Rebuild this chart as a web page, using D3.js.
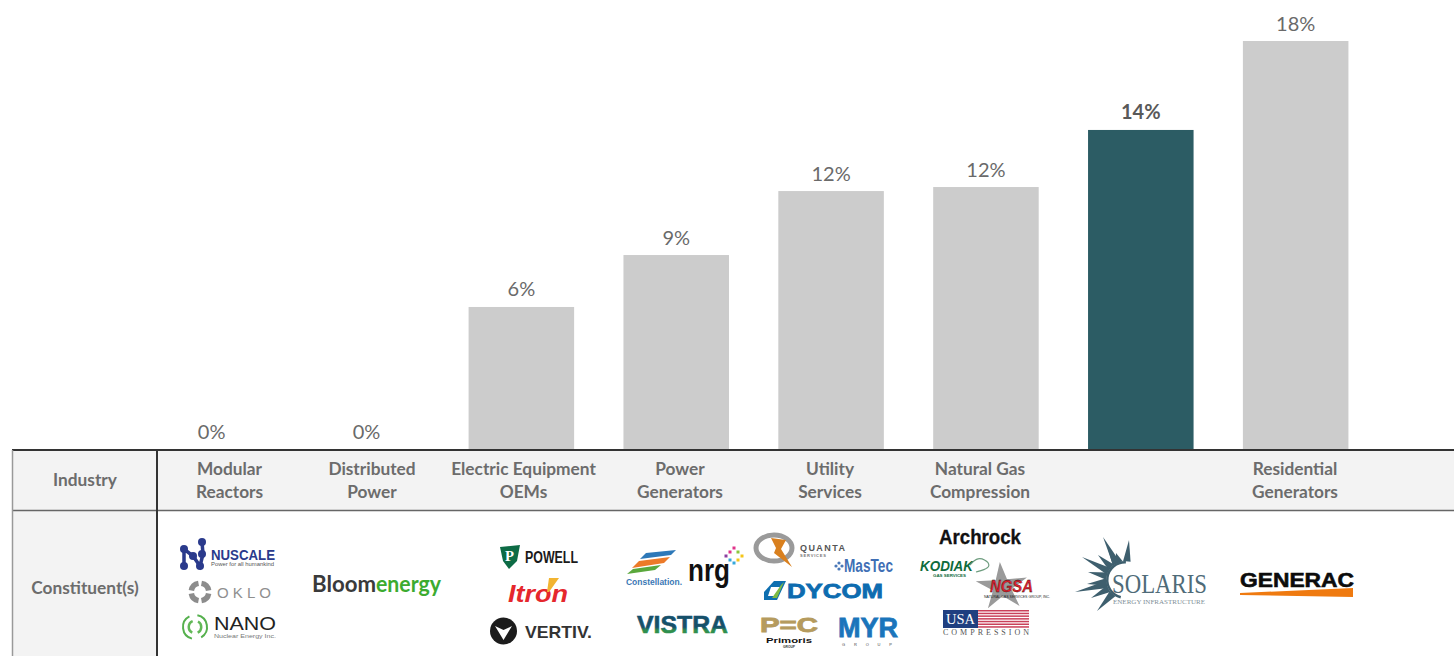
<!DOCTYPE html>
<html>
<head>
<meta charset="utf-8">
<title>Industry returns with constituents</title>
<script src="https://cdnjs.cloudflare.com/ajax/libs/d3/7.8.5/d3.min.js"></script>
<style>
  html, body { margin: 0; padding: 0; background: #fff; }
  svg { display: block; font-family: Lato, "Noto Sans", sans-serif; }
</style>
</head>
<body>
<svg id="chart" width="1454" height="656"></svg>
<script>
// Chart data
const industries = ["Modular\nReactors", "Distributed\nPower", "Electric Equipment\nOEMs", "Power\nGenerators",
                    "Utility\nServices", "Natural Gas\nCompression", "", "Residential\nGenerators"];
const values = [0, 0, 6.37, 8.7, 11.57, 11.75, 14.31, 18.3];
const highlighted = [false, false, false, false, false, false, true, false];
const rowTitles = ["Industry", "Constituent(s)"];

const svg = d3.select("#chart");
const W = 1454, H = 656;
const baseY = 449;

const x = d3.scaleBand().domain(d3.range(industries.length))
  .range([134.2, 1373.1]).paddingInner(0.3186).paddingOuter(0.1593);
const y = d3.scaleLinear().domain([0, 18.3]).range([baseY, 41]);
const pct = v => d3.format(".0f")(v) + "%";

// Bars and value labels
const bars = svg.append("g");
bars.selectAll("rect").data(values).join("rect")
  .attr("x", (d, i) => x(i)).attr("width", x.bandwidth())
  .attr("y", d => y(d)).attr("height", d => baseY - y(d))
  .attr("fill", (d, i) => highlighted[i] ? "#2c5c64" : "#cccccc");
bars.selectAll("text").data(values).join("text")
  .attr("x", (d, i) => x(i) + x.bandwidth() / 2).attr("y", d => y(d) - 10.5)
  .attr("text-anchor", "middle").attr("font-size", 20)
  .attr("font-weight", (d, i) => highlighted[i] ? 700 : 400)
  .attr("fill", (d, i) => highlighted[i] ? "#595959" : "#6a6a6a")
  .text(pct);

// Table shading and rules under the bars
const table = svg.append("g");
table.append("rect").attr("x", 12).attr("y", 450).attr("width", W - 12).attr("height", 60).attr("fill", "#f3f3f3");
table.append("rect").attr("x", 12).attr("y", 510).attr("width", 145).attr("height", H - 510).attr("fill", "#f3f3f3");
table.append("line").attr("x1", 12).attr("x2", W).attr("y1", 450).attr("y2", 450).attr("stroke", "#333").attr("stroke-width", 2);
table.append("line").attr("x1", 12).attr("x2", W).attr("y1", 510.5).attr("y2", 510.5).attr("stroke", "#666").attr("stroke-width", 1.5);
table.append("line").attr("x1", 12.5).attr("x2", 12.5).attr("y1", 450).attr("y2", H).attr("stroke", "#999").attr("stroke-width", 1.5);
table.append("line").attr("x1", 157).attr("x2", 157).attr("y1", 450).attr("y2", H).attr("stroke", "#333").attr("stroke-width", 2);

const labelStyle = s => s.attr("font-size", 17.3).attr("font-weight", 700).attr("fill", "#6c6c6c").attr("text-anchor", "middle");
table.append("text").call(labelStyle).attr("x", 85).attr("y", 486).text(rowTitles[0]);
table.append("text").call(labelStyle).attr("x", 85).attr("y", 594).text(rowTitles[1]);

// Column headings sit on their own centres, which drift from the bars
const headingCentres = [229.5, 372, 523.5, 680, 830, 980, 1141, 1295];
table.selectAll("text.head").data(industries).join("text").attr("class", "head").call(labelStyle)
  .each(function (d, i) {
    d3.select(this).selectAll("tspan").data(d.split("\n")).join("tspan")
      .attr("x", headingCentres[i]).attr("y", (t, k) => 475 + k * 23).text(t => t);
  });

// Company marks, built from plain shapes and type
const logos = svg.append("g");
const sans = '"Liberation Sans", Arial, sans-serif';
const serif = '"Liberation Serif", serif';
function word(s, px, py, len, size, fill, opts = {}) {
  const t = logos.append("text").attr("x", px).attr("y", py).attr("font-size", size).attr("fill", fill)
    .attr("font-family", opts.family || sans).attr("font-weight", opts.weight || 400)
    .attr("font-style", opts.style || "normal").text(s);
  if (len) t.attr("textLength", len).attr("lengthAdjust", opts.adjust || "spacingAndGlyphs");
  return t;
}
function poly(points, fill) { return logos.append("polygon").attr("points", points.join(" ")).attr("fill", fill); }
function dot(cx, cy, r, fill) { return logos.append("circle").attr("cx", cx).attr("cy", cy).attr("r", r).attr("fill", fill); }
function arc(cx, cy, r0, r1, a0, a1, fill) {
  return logos.append("path").attr("transform", `translate(${cx},${cy})`).attr("fill", fill)
    .attr("d", d3.arc()({ innerRadius: r0, outerRadius: r1, startAngle: a0, endAngle: a1 }));
}

const defs = svg.append("defs");
const vistraFill = defs.append("linearGradient").attr("id", "vistraFill").attr("x1", 0).attr("x2", 0).attr("y1", 0).attr("y2", 1);
vistraFill.append("stop").attr("offset", "60%").attr("stop-color", "#16506a");
vistraFill.append("stop").attr("offset", "72%").attr("stop-color", "#2f8f4e");

// NuScale
const nuNavy = "#2a3a8c";
const nuNodes = [[184, 549], [184, 566], [202, 542], [202, 554], [193, 556], [200, 566]];
logos.append("path").attr("fill", "none").attr("stroke", nuNavy).attr("stroke-width", 3.5)
  .attr("d", d3.line()([[184, 566], [184, 549], [193, 556], [200, 566], [203, 554], [202, 542]]));
nuNodes.forEach(n => dot(n[0], n[1], 4, nuNavy));
word("NUSCALE", 211, 560, 64, 14, nuNavy, { weight: 700 });
word("Power for all humankind", 211, 566, 63, 4.5, "#555");

// Oklo
d3.range(4).forEach(i => arc(200, 592, 6, 11.5, i * Math.PI / 2 + 0.17, (i + 1) * Math.PI / 2 - 0.17, "#8c8c8c"));
word("OKLO", 217, 598, 54, 15, "#8f8f8f", { adjust: "spacing" });

// Nano Nuclear
arc(195, 627, 11, 13, 0.2, 2.6, "#55b04d");
arc(195, 627, 11, 13, 3.4, 5.8, "#55b04d");
arc(195, 627, 5, 7.5, 0.5, 2.7, "#62b857");
arc(195, 627, 5, 7.5, 3.6, 5.9, "#62b857");
word("NANO", 214, 630, 62, 19, "#222");
word("Nuclear Energy Inc.", 214, 638, 62, 6, "#777");

// Bloom Energy
word("Bloom", 312, 592, 64, 23, "#3a3a3a", { family: "Lato", weight: 700 });
word("energy", 376, 592, 65, 23, "#3cab2f", { family: "Lato", weight: 700 });

// Powell
poly([[500, 547], [520, 545], [517, 561], [509, 569], [503, 561]], "#0d6b45");
word("P", 505, 561, 9, 15, "#fff", { family: serif, weight: 700 });
word("POWELL", 525, 563, 53, 16, "#1a1a1a", { weight: 700 });

// Itron
word("Itron", 508, 602, 60, 24, "#e5272d", { weight: 700, style: "italic" });
poly([[549, 578], [559, 578], [549, 592], [547, 592]], "#f2b431");

// Vertiv
dot(503.5, 631, 13.5, "#1c1c1c");
poly([[495, 626], [503.5, 630], [512, 626], [503.5, 640]], "#fff");
word("VERTIV.", 525, 638, 67, 17, "#333", { weight: 700 });

// Constellation
poly([[676, 550], [671, 555], [640, 559], [646, 553]], "#2d78b8");
poly([[670, 557], [664, 563], [632, 568], [639, 561]], "#ec7a28");
poly([[661, 565], [655, 570], [627, 574], [633, 569]], "#5aa83c");
word("Constellation.", 626, 585, 56, 9, "#3b78b5", { weight: 700 });

// NRG
word("nrg", 688, 581, 42, 31, "#111", { weight: 700 });
const nrgPetals = [[734, 548, "#e0338a"], [734, 563, "#35a8dc"], [726, 556, "#8b3fa0"], [742, 556, "#f5c518"], [730, 552, "#e0338a"], [738, 552, "#8cc63f"], [730, 560, "#35a8dc"], [738, 560, "#f5c518"]];
nrgPetals.forEach(p => logos.append("rect").attr("x", p[0] - 1.5).attr("y", p[1] - 1.5).attr("width", 3).attr("height", 3).attr("fill", p[2]));

// Quanta
logos.append("ellipse").attr("cx", 774).attr("cy", 548).attr("rx", 18).attr("ry", 13).attr("fill", "none").attr("stroke", "#9a9a9a").attr("stroke-width", 5);
poly([[771, 538], [786, 540], [781, 549], [792, 567], [774, 553], [776, 548]], "#d9801f");
word("QUANTA", 800, 551, 45, 9, "#555", { weight: 700, adjust: "spacing" });
word("SERVICES", 800, 557, 26, 4, "#777", { weight: 700, adjust: "spacing" });

// MasTec
[[836, 566], [839, 563], [839, 569], [842, 566]].forEach(p => dot(p[0], p[1], 1.6, "#4a78b8"));
word("MasTec", 844, 572, 49, 18, "#3f6fb5", { weight: 700 });

// Dycom
poly([[774, 581], [786, 581], [777, 600], [764, 600], [764, 592]], "#0e6fb0");
poly([[771, 587], [780, 587], [775, 596], [768, 596]], "#fff");
poly([[781, 585], [784, 582], [777, 598], [772, 598]], "#7dba42");
word("DYCOM", 787, 598, 96, 21, "#0d6cb0", { weight: 700 }).attr("stroke", "#0d6cb0").attr("stroke-width", 0.8);

// Primoris
word("P=C", 760, 631.5, 58, 20, "#b59b5e", { weight: 700 }).attr("stroke", "#b59b5e").attr("stroke-width", 0.8);
word("Primoris", 766, 643, 46, 8, "#111", { weight: 700 });
word("GROUP", 783, 648, 12, 3.5, "#333", { weight: 700 });

// MYR Group
word("MYR", 838, 637, 60, 27, "#1b75bb", { weight: 700 }).attr("stroke", "#1b75bb").attr("stroke-width", 0.8);
word("GROUP", 842, 645.5, 50, 4, "#444", { adjust: "spacing" });

// Vistra
word("VISTRA", 637, 633, 91, 24, "url(#vistraFill)", { weight: 700 }).attr("stroke", "url(#vistraFill)").attr("stroke-width", 0.6);

// Archrock
word("Archrock", 939, 544, 82, 20, "#111", { weight: 700 }).attr("stroke", "#111").attr("stroke-width", 0.3);

// Kodiak
word("KODIAK", 920, 571, 53, 14, "#0f6b3c", { weight: 700, style: "italic" });
word("GAS SERVICES", 933, 577, 33, 4.2, "#0f6b3c", { weight: 700 });
logos.append("path").attr("fill", "none").attr("stroke", "#6d9c7e").attr("stroke-width", 1.2)
  .attr("d", d3.line().curve(d3.curveBasis)([[970, 565], [976, 558], [985, 559], [991, 566], [984, 570], [976, 572]]));

// Natural Gas Services Group
const starPts = d3.range(10).map(i => {
  const r = i % 2 ? 9 : 25, a = -Math.PI / 2 + i * Math.PI / 5 - 0.08;
  return [1002 + r * Math.cos(a) * 1.08, 587 + r * Math.sin(a)];
});
poly(starPts, "#9a9a9a");
word("NGSA", 990, 592, 43, 16, "#e01f2d", { weight: 700, style: "italic" }).attr("stroke", "#111").attr("stroke-width", 0.3);
word("NATURAL GAS SERVICES GROUP, INC.", 984, 597.5, 66, 3.4, "#222");

// USA Compression
const stripes = d3.range(7);
stripes.forEach(i => logos.append("rect").attr("x", 943).attr("y", 610 + i * 2.7).attr("width", 86).attr("height", 1.5).attr("fill", "#c9415a"));
logos.append("rect").attr("x", 943).attr("y", 610).attr("width", 35).attr("height", 18).attr("fill", "#1f3f80");
word("USA", 946, 624, 29, 14, "#fff", { family: serif });
word("COMPRESSION", 943, 635, 86, 8, "#555", { family: serif, adjust: "spacing" });

// Solaris: spikes radiate from a shared hub behind the wordmark
const hub = [1125, 580], hubR = 19;
const sunTips = [[1103, 537], [1129, 540], [1082, 557], [1075, 592], [1097, 611], [1098, 555], [1116, 553], [1088, 572], [1087, 584], [1091, 598], [1108, 549]];
sunTips.forEach(t => {
  const a = Math.atan2(t[1] - hub[1], t[0] - hub[0]), w = 0.2;
  poly([t, [hub[0] + hubR * Math.cos(a - w), hub[1] + hubR * Math.sin(a - w)],
        [hub[0] + hubR * Math.cos(a + w), hub[1] + hubR * Math.sin(a + w)]], "#3e5f6e");
});
arc(hub[0], hub[1], hubR - 2.5, hubR, -2.9, 0.05, "#3e5f6e");
word("SOLARIS", 1112, 593, 95, 27, "#4f6b78", { family: serif });
word("ENERGY INFRASTRUCTURE", 1113, 603.5, 92, 6.5, "#7f8f98", { family: serif });

// Generac
word("GENERAC", 1240, 587, 114, 21, "#0c0c0c", { weight: 700 }).attr("stroke", "#0c0c0c").attr("stroke-width", 0.6);
poly([[1240, 593], [1353, 588], [1353, 597], [1240, 595]], "#ef7a10");
</script>
</body>
</html>
